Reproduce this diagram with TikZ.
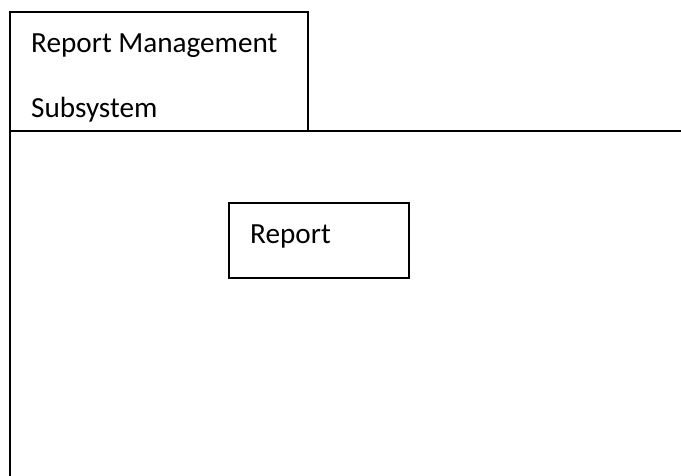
\documentclass[tikz,border=0pt]{standalone}
\usepackage{fontspec}
\setmainfont{Carlito}
\begin{document}
\begin{tikzpicture}[x=1pt,y=-1pt,
  frame/.style={draw=black,line width=1.6pt},
  label/.style={anchor=base west,inner sep=0pt,font=\fontsize{29.2}{31}\selectfont}]
\useasboundingbox (0,0) rectangle (681,475);
% package tab
\draw[frame] (10,12) rectangle (308,131);
\node[label] (title1) at (31,52) {Report Management};
\node[label] (title2) at (31,117) {Subsystem};
% package body (runs off the page)
\draw[frame] (10,131) -- (10,476);
\draw[frame] (308,131) -- (682,131);
% contained class
\node[frame,minimum width=180pt,minimum height=75pt,inner sep=0pt] (report) at (319,240.5) {};
\node[label] (reporttext) at (250,243) {Report};
\end{tikzpicture}
\end{document}
